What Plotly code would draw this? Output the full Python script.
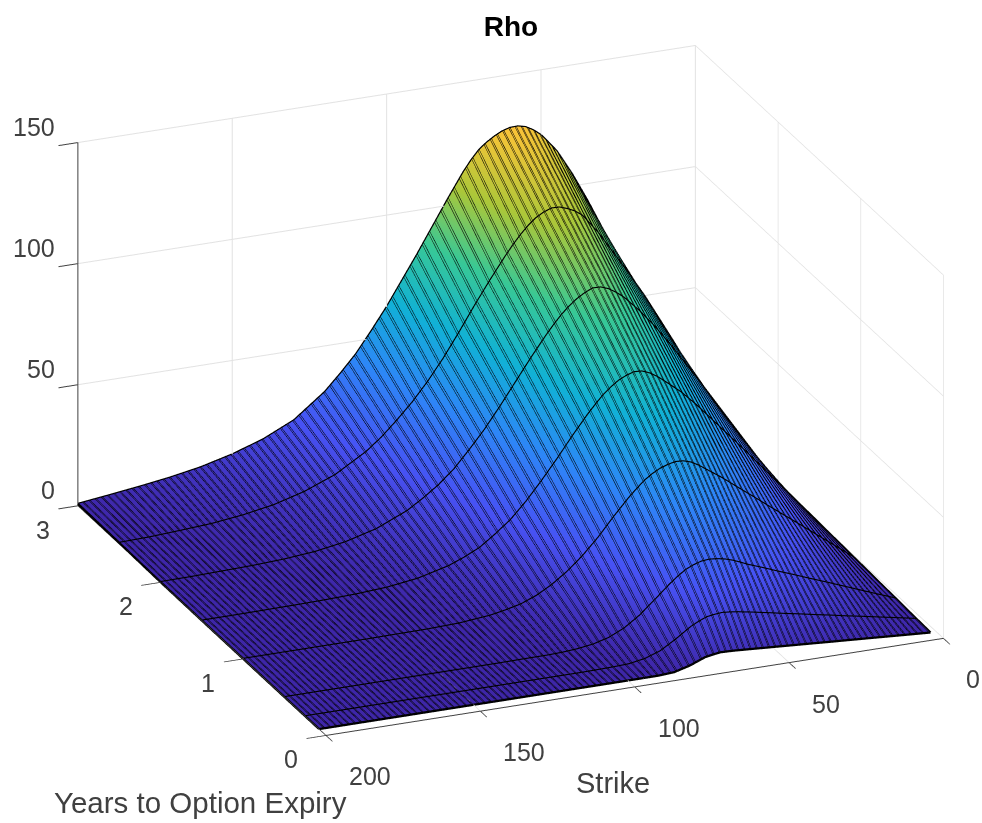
import plotly.graph_objects as go

strikes = [2,10,20,25,30,35,40,45,50,52.5,55,57.5,60,62.5,65,67.5,70,72.5,75,80,85,90,95,100,105,110,115,120,130,140,150,160,170,180,190,200]
expiries = [0.0833,0.25,0.5,1.0,1.5,2.0,2.5,3.0]
rho_t0083 = [0.17,0.83,1.67,2.08,2.5,2.9,3.33,3.75,4.17,4.38,4.58,4.79,5.0,5.2,5.41,5.55,5.64,5.2,4.62,2.13,0.45,0.04,0,0,0,0,0,0,0,0,0,0,0,0,0,0]
rho_t025 = [0.5,2.5,5,6.2,7.5,8.7,10,11.2,12.5,13.1,13.75,14.3,14.9,15.3,15.6,15.3,14.8,13.5,11.9,7.6,3.8,1.6,0.5,0.2,0.1,0,0,0,0,0,0,0,0,0,0,0]
rho_t05 = [0.99,4.9,9.9,12.4,14.8,17.3,19.7,22.2,24.6,26,27.3,28.3,28.9,29.2,28.9,27.9,26.5,24.3,21.8,16.1,10.6,6.3,3.4,1.7,0.8,0.3,0.1,0.1,0,0,0,0,0,0,0,0]
rho_t1 = [1.94,9.7,19.4,24.2,29,33.9,38.7,43.6,48,50.2,52,53,53.2,52.5,51.4,49.7,47.5,44.6,41.5,34.5,27,20.5,15,10.5,7,4.5,3,1.8,0.6,0.2,0.1,0,0,0,0,0]
rho_t15 = [2.9,14.4,28.8,36,43,50,57,63.3,68.5,71,73,74.3,74.5,73.5,72,69.7,67,63.6,60,52,43.5,35.5,28,21.5,16.5,12,9,6.5,3.3,1.6,0.8,0.4,0.2,0.1,0,0]
rho_t2 = [3.8,18.8,37.6,47,56,65,73.5,81,87.5,90,92,93.2,93.3,91.9,90,87.5,84.5,80.9,77,68.5,59.5,50.5,42,34.5,27.5,22,17.5,13.5,8,4.6,2.5,1.4,0.8,0.5,0.2,0.1]
rho_t25 = [4.6,23,46.4,57.5,68.5,78.5,88,97.5,105.5,107.8,109.3,110.4,110.5,109.3,107.5,104.8,101.5,97.7,93.5,84.5,75,65,55.5,47,39.5,33,27,22,14.5,9.5,6,3.8,2.3,1.5,0.8,0.5]
rho_t3 = [5.5,27.5,55,68,80,93,105,115.5,123,125.5,127.3,128.1,128,127.1,125.5,123.5,121,117.3,113,103,92.5,82,72,62,53,44.5,37.5,31,21.3,15.4,11.2,8,5.7,3.9,2.3,0.8]
rho = [rho_t0083,rho_t025,rho_t05,rho_t1,rho_t15,rho_t2,rho_t25,rho_t3]
expiry_ticks = [0, 1, 2, 3]
strike_ticks = [0, 50, 100, 150, 200]
rho_ticks = [0, 50, 100, 150]

parula = [[0,'#3e26a8'],[1/7,'#4752f4'],[2/7,'#2d87f7'],[3/7,'#11b1d6'],[4/7,'#37c897'],[5/7,'#abc739'],[6/7,'#fec338'],[1,'#f9fb15']]
FONT = 'Liberation Sans, Arial'

fig = go.Figure()
# The same surface twice: surface contour lines are one pixel wide, so two nearly
# coincident sets give the heavier mesh lines of the reference.
for start in (2, 2.4):
    fig.add_surface(
        x=expiries, y=strikes, z=[list(c) for c in zip(*rho)],
        colorscale=parula, cmin=0, cmax=150, showscale=False, hoverinfo='skip',
        lighting=dict(ambient=1, diffuse=0, specular=0, roughness=1, fresnel=0),
        contours=dict(y=dict(show=True, start=start, end=200, size=2, color='black', width=2, highlight=False),
                      x=dict(highlight=False), z=dict(highlight=False)),
    )
lx, ly, lz = [], [], []
for t, row in zip(expiries, rho):
    lx += [t]*len(strikes)+[None]
    ly += strikes+[None]
    lz += row+[None]
for i, k in enumerate([strikes[0], strikes[-1]]):
    j = 0 if i == 0 else -1
    lx += expiries+[None]
    ly += [k]*len(expiries)+[None]
    lz += [r[j] for r in rho]+[None]
fig.add_scatter3d(x=lx, y=ly, z=lz, mode='lines', line=dict(color='black', width=4.5), hoverinfo='skip', showlegend=False)

common = dict(showbackground=False, gridcolor='#e2e2e2', gridwidth=2, zeroline=False, showline=True,
              linecolor='#404040', linewidth=2, ticks='outside', tickcolor='#404040', tickwidth=2,
              showticklabels=False, showspikes=False, title=dict(text=''))

def label(x, y, z, text, dx, dy, size=25, anchor='center'):
    return dict(x=x, y=y, z=z, text=text, showarrow=False, xshift=dx, yshift=dy, xanchor=anchor, yanchor='middle',
                font=dict(family=FONT, size=size, color='#404040'))

anns = [label(3, 200, v, str(v), -21, 16, anchor='right') for v in rho_ticks]
anns += [label(v, 200, 0, str(v), -35, -24) for v in expiry_ticks]
anns += [label(0, v, 0, str(v), 21, -41, anchor='left') for v in strike_ticks]
anns += [label(3, 200, 0, 'Years to Option Expiry', 123, -297, size=29.5),
         label(0, 100, 0, 'Strike', -22, -96, size=29)]

cen = (0.0007, 0.0515, -0.0475)
R = 2.0
fig.update_layout(
    width=982, height=823, margin=dict(l=0, r=0, t=0, b=0), paper_bgcolor='white', showlegend=False,
    title=dict(text='<b>Rho</b>', x=511/982, y=1-26/823, xanchor='center', yanchor='middle',
               font=dict(family=FONT, size=28, color='black')),
    scene=dict(
        domain=dict(x=[0, 1], y=[0, 1]),
        xaxis=dict(common, range=[0, 3], tickvals=expiry_ticks, ticklen=17),
        yaxis=dict(common, range=[0, 200], tickvals=strike_ticks, ticklen=21),
        zaxis=dict(common, range=[0, 150], tickvals=rho_ticks, ticklen=17),
        aspectmode='manual', aspectratio=dict(x=1.582, y=1.623, z=0.955),
        camera=dict(projection=dict(type='orthographic'), up=dict(x=0, y=0, z=1),
                    center=dict(x=cen[0], y=cen[1], z=cen[2]),
                    eye=dict(x=cen[0]-0.8546*R, y=cen[1]+0.3522*R, z=cen[2]+0.3815*R)),
        annotations=anns,
    ),
)
fig.write_html('out.html', config=dict(displayModeBar=False), post_script="document.body.style.margin='0';")
